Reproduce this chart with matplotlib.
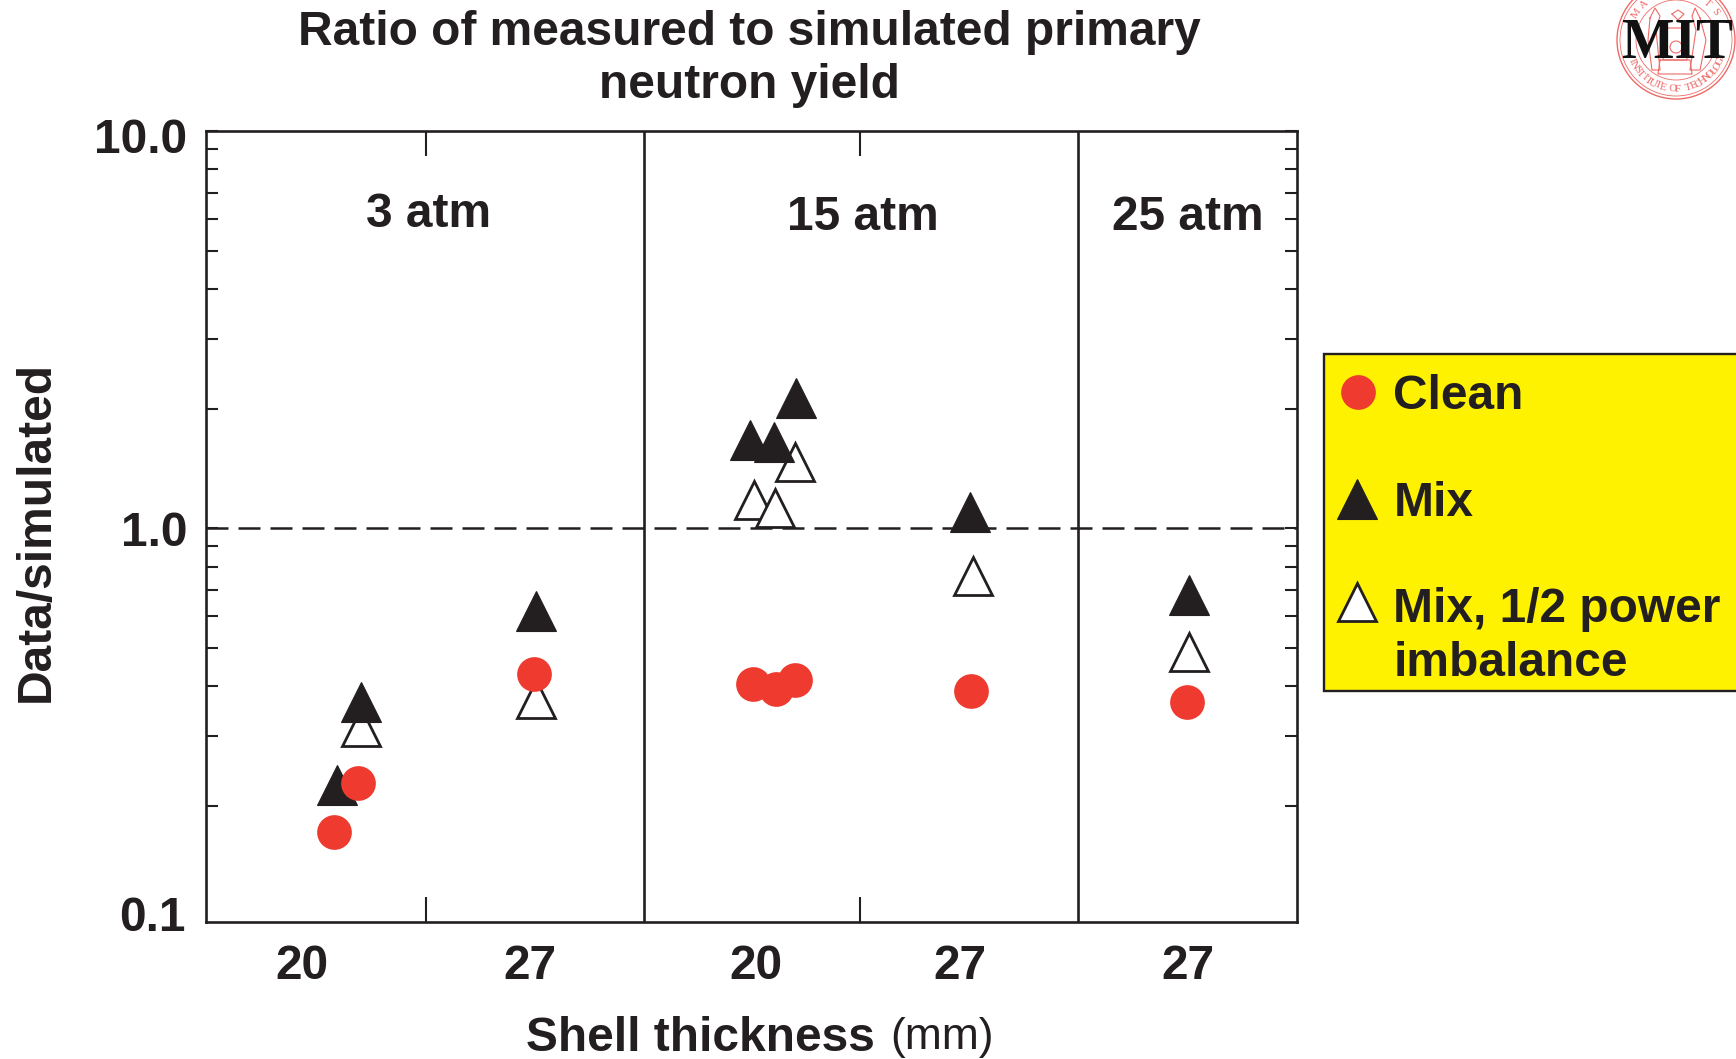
import numpy as np
import matplotlib
matplotlib.use("Agg")
import matplotlib.pyplot as plt
from matplotlib.patches import Circle, Rectangle
from matplotlib.ticker import NullFormatter, FixedLocator, FixedFormatter
from matplotlib.transforms import ScaledTranslation

plt.rcParams['font.family'] = ['Liberation Sans', 'DejaVu Sans']

W, H = 1736, 1059
S = 1736 / 1568

title_text = "Ratio of measured to simulated primary\nneutron yield"
panel_names = ["3 atm", "15 atm", "25 atm"]
panel_label_x = [387, 779, 1073]
panel_label_y = [6.18, 6.07, 6.07]
dividers = [582, 974]
group_ticks = [384.5, 777]
tick_x = [273, 478.5, 682.5, 867.5, 1073]
tick_labels = ["20", "27", "20", "27", "27"]
major_y = [1.0, 10.0]
major_y_labels = ["1.0", "10.0"]
minor_y = [0.2, 0.3, 0.4, 0.5, 0.6, 0.7, 0.8, 0.9,
           2, 3, 4, 5, 6, 7, 8, 9]

clean_x = [302, 323, 482, 680, 701, 718, 877, 1072]
clean_y = [0.172, 0.228, 0.430, 0.405, 0.394, 0.415, 0.388, 0.365]
mix_x = [304, 326, 484, 677, 699, 719, 876, 1074]
mix_y = [0.226, 0.366, 0.618, 1.67, 1.65, 2.13, 1.10, 0.677]
half_x = [326, 484, 681, 700, 718, 879, 1074]
half_y = [0.315, 0.372, 1.175, 1.127, 1.47, 0.757, 0.489]

RED = "#EE3A2F"
DARK = "#231F20"
YEL = "#FFF200"
FS = 34.5

fig = plt.figure(figsize=(W / 100, H / 100), dpi=100, facecolor="white")
L, R, T, B = 206, 1297, 131, 922
ax = fig.add_axes([L / W, 1 - B / H, (R - L) / W, (B - T) / H])
ax.set_yscale("log")
ax.set_xlim(186.1, 1171.5)
ax.set_ylim(10 ** ((477 - 832.5) / 358.5), 10.0)

for s in ax.spines.values():
    s.set_linewidth(1.9)
    s.set_color(DARK)

ax.yaxis.set_major_locator(FixedLocator(major_y))
ax.yaxis.set_major_formatter(FixedFormatter(major_y_labels))
ax.yaxis.set_minor_locator(FixedLocator(minor_y))
ax.yaxis.set_minor_formatter(NullFormatter())
ax.tick_params(axis="y", which="both", direction="in", left=True, right=True,
               length=8.5, width=1.5, color=DARK, pad=13.5)
ax.set_xticks(group_ticks)
ax.set_xticklabels([])
ax.set_xticks(tick_x, minor=True)
ax.set_xticklabels(tick_labels, minor=True)
ax.tick_params(axis="x", which="major", direction="in", top=True, bottom=True,
               length=18, width=1.5, color=DARK)
ax.tick_params(axis="x", which="minor", length=0, pad=16)
for t in ax.get_xticklabels(minor=True) + ax.get_yticklabels():
    t.set_fontsize(FS)
    t.set_fontweight("bold")
    t.set_color(DARK)
# the "10.0" label sits a little below the top of the axis
top_lab = ax.get_yticklabels()[1]
top_lab.set_transform(top_lab.get_transform() + ScaledTranslation(0, -3.2 / 72, fig.dpi_scale_trans))

for d in dividers:
    ax.axvline(d, color=DARK, lw=1.9, zorder=2)
ax.axhline(1.0, color=DARK, lw=1.8, dashes=(8.8, 4.0), zorder=2)

for name, x, y in zip(panel_names, panel_label_x, panel_label_y):
    ax.text(x, y, name, ha="center", va="center", fontsize=FS,
            fontweight="bold", color=DARK)

ax.plot(half_x, half_y, ls="none", marker="^", ms=28, mfc="white", mec=DARK,
        mew=2.0, zorder=3)
ax.plot(mix_x, mix_y, ls="none", marker="^", ms=28.5, mfc=DARK, mec=DARK,
        mew=0.8, zorder=4)
ax.plot(clean_x, clean_y, ls="none", marker="o", ms=25, mfc=RED, mec=RED,
        mew=0, zorder=5)

# overlay in full-size pixel coordinates for everything outside the axes
ov = fig.add_axes([0, 0, 1, 1], facecolor="none")
ov.set_xlim(0, W)
ov.set_ylim(H, 0)
ov.axis("off")

ov.text(167.5 * S, 830 * S, "0.1", ha="right", va="center", fontsize=FS,
        fontweight="bold", color=DARK)
ov.text(676.5 * S, 53 * S, title_text, ha="center", va="center", fontsize=FS,
        fontweight="bold", color=DARK, linespacing=1.23)
ov.text(32.5 * S, 480.5 * S, "Data/simulated", rotation=90, ha="center", va="center",
        fontsize=FS, fontweight="bold", color=DARK)
ov.text(790 * S, 938 * S, "Shell thickness", ha="right", va="center", fontsize=FS,
        fontweight="bold", color=DARK)
ov.text(804 * S, 937 * S, "(mm)", ha="left", va="center", fontsize=32, color=DARK)

# legend panel
ov.add_patch(Rectangle((1195.5 * S, 320 * S), 400 * S, 304 * S, fc=YEL, ec=DARK,
                       lw=1.7, clip_on=True, zorder=1))
ov.plot([1226.5 * S], [354 * S], marker="o", ms=25, mfc=RED, mec=RED, mew=0, zorder=2)
ov.plot([1226 * S], [451 * S], marker="^", ms=28.5, mfc=DARK, mec=DARK, mew=0.8, zorder=2)
ov.plot([1226 * S], [544 * S], marker="^", ms=28, mfc="white", mec=DARK, mew=2.0, zorder=2)
for txt, y in [("Clean", 358.5), ("Mix", 454.5), ("Mix, 1/2 power", 550.5), ("imbalance", 599.5)]:
    ov.text(1258.5 * S, y * S, txt, ha="left", va="center", fontsize=FS,
            fontweight="bold", color=DARK, zorder=2)

# MIT seal
cx, cy, r = 1676, 40, 59
SEAL = "#EE6A66"
ov.add_patch(Circle((cx, cy), r, fc="white", ec=SEAL, lw=1.0, zorder=1))
ov.add_patch(Circle((cx, cy), r - 3, fc="none", ec=SEAL, lw=0.6, zorder=1))
ov.add_patch(Circle((cx, cy), r - 19, fc="none", ec=SEAL, lw=0.6, zorder=1))

def arc_text(s, a0, a1, rad, flip):
    for ch, a in zip(s, np.linspace(a0, a1, len(s))):
        th = np.deg2rad(a)
        rot = a - 90 if not flip else a + 90
        ov.text(cx + rad * np.cos(th), cy - rad * np.sin(th), ch, fontsize=8,
                family="Liberation Serif", color=SEAL, rotation=rot,
                ha="center", va="center", zorder=1)

arc_text("MA", 146, 132, r - 11, False)
arc_text("TS", 50, 36, r - 11, False)
arc_text("INSTITUTE OF TECHNOLOGY", 205, 340, r - 10, True)
# simplified seal drawing: two figures, lamp and pedestal
for xs, ys in [([1650, 1655, 1660, 1656, 1660, 1652, 1648, 1650], [18, 8, 16, 30, 70, 70, 40, 18]),
               ([1700, 1695, 1692, 1696, 1690, 1700, 1706, 1700], [18, 8, 16, 30, 70, 70, 40, 18]),
               ([1665, 1685, 1687, 1663, 1665], [28, 28, 60, 60, 28]),
               ([1660, 1690, 1692, 1658, 1660], [60, 60, 74, 74, 60]),
               ([1672, 1678, 1684, 1678, 1672], [14, 10, 14, 20, 14])]:
    ov.plot(xs, ys, color=SEAL, lw=0.8, zorder=1)
ov.add_patch(Circle((1676, 47), 6, fc="none", ec=SEAL, lw=0.8, zorder=1))
ov.text(1622, 58, "MIT", family="Liberation Serif", fontweight="bold", fontsize=40,
        color="#111111", ha="left", va="baseline", zorder=3)

fig.savefig("out.png", dpi=100)
